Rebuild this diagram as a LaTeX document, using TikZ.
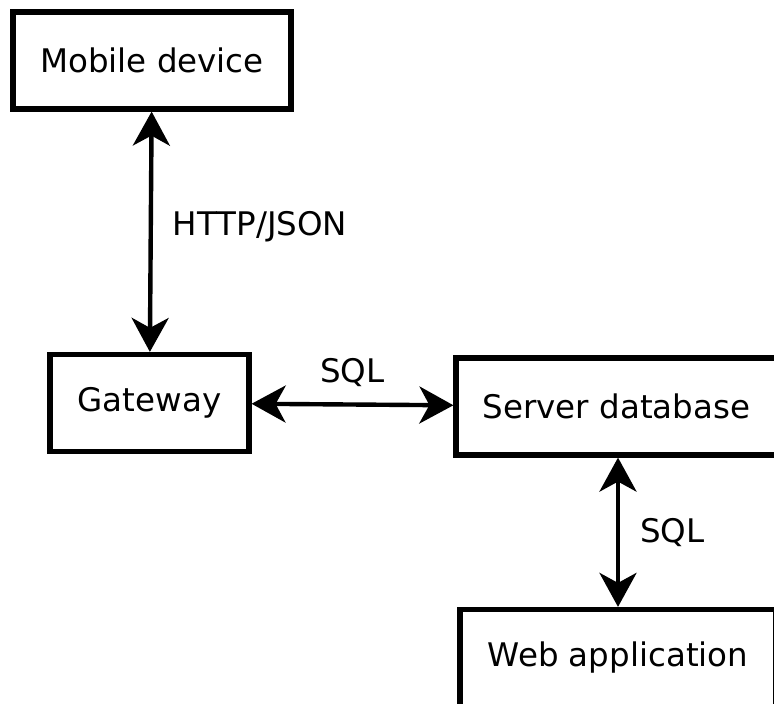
\documentclass[tikz,border=0pt]{standalone}
\usepackage{fontspec}
\setmainfont{DejaVu Sans}
\usetikzlibrary{arrows.meta}

\begin{document}
\begin{tikzpicture}[x=0.5pt, y=-0.5pt]
		\tikzstyle{every node}=[inner sep=0pt, align=center, font=\fontsize{16.25}{20}\selectfont]
		\tikzstyle{box}=[draw, line width=2.6pt, minimum height=48.5pt]
		\tikzstyle{link}=[line width=2.2pt, {Stealth[length=17pt, width=18.5pt, inset=5pt]}-{Stealth[length=17pt, width=18.5pt, inset=5pt]}]
		\clip (0, 0) rectangle (774, 704);
		\node [box, minimum width=139pt] (mobile) at (152, 60.5) {Mobile device};
		\node [box, minimum width=99.5pt] (gateway) at (149.5, 403) {Gateway};
		\node [box, minimum width=160.5pt] (server) at (616.5, 406.5) {Server database};
		\node [box, minimum width=158pt] (webapp) at (618, 658) {Web application};
		\draw [link] (mobile) -- (gateway) node[pos=0.48, right=10pt] {HTTP/JSON};
		\draw [link] (gateway) -- (server) node[midway, above=8pt] {SQL};
		\draw [link] (server.south -| webapp.north) -- (webapp.north) node[midway, right=10pt] {SQL};
\end{tikzpicture}
\end{document}
